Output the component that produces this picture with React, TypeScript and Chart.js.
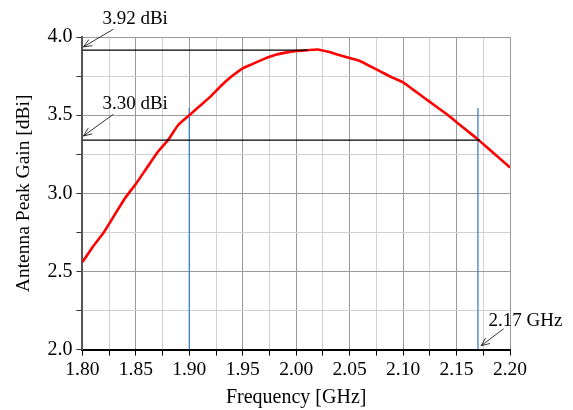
import React, { useEffect, useRef } from "react";
import { Chart, registerables } from "chart.js";

Chart.register(...registerables);

const freqGHz = [
  1.8, 1.81, 1.82, 1.83, 1.84, 1.85, 1.86, 1.87, 1.88, 1.89, 1.9, 1.91, 1.92, 1.93, 1.94, 1.95, 1.96, 1.97, 1.98, 1.99, 2.0,
  2.01, 2.02, 2.03, 2.04, 2.05, 2.06, 2.07, 2.08, 2.09, 2.1, 2.11, 2.12, 2.13, 2.14, 2.15, 2.16, 2.17, 2.18, 2.19, 2.2,
];
const peakGain = [
  2.56, 2.66, 2.75, 2.86, 2.97, 3.06, 3.16, 3.26, 3.34, 3.44, 3.5, 3.56, 3.62, 3.69, 3.75, 3.8, 3.83, 3.86, 3.885, 3.9, 3.91,
  3.915, 3.92, 3.905, 3.885, 3.865, 3.845, 3.81, 3.775, 3.74, 3.71, 3.66, 3.61, 3.56, 3.51, 3.455, 3.4, 3.345, 3.285, 3.225, 3.165,
];

// reference lines
const maxGainLevel = 3.916;
const maxGainEnd = 2.011;
const bandGainLevel = 3.34;
const bandGainEnd = 2.172;
const bandEdges = [1.9, 2.17];
const bandMarkerTop = 3.545;

const xTickLabels = ["1.80", "1.85", "1.90", "1.95", "2.00", "2.05", "2.10", "2.15", "2.20"];
const yTickLabels = ["2.0", "2.5", "3.0", "3.5", "4.0"];

const annotations = [
  { text: "3.92 dBi", tx: 1.8187, ty: 4.082, ax0: 1.829, ay0: 4.05, ax1: 1.801, ay1: 3.937 },
  { text: "3.30 dBi", tx: 1.8187, ty: 3.538, ax0: 1.829, ay0: 3.506, ax1: 1.801, ay1: 3.367 },
  { text: "2.17 GHz", tx: 2.18, ty: 2.152, ax0: 2.194, ay0: 2.133, ax1: 2.173, ay1: 2.025 },
];

const FONT = "'Liberation Serif', 'Times New Roman', serif";

const annotationPlugin = {
  id: "annot",
  afterDatasetsDraw(chart: any) {
    const { ctx, scales } = chart;
    const xs = scales.x;
    const ys = scales.y;
    ctx.save();
    ctx.fillStyle = "#000";
    ctx.strokeStyle = "#000";
    ctx.lineWidth = 0.8;
    ctx.font = `19px ${FONT}`;
    ctx.textBaseline = "alphabetic";
    for (const a of annotations) {
      const tx = xs.getPixelForValue(a.tx);
      const ty = ys.getPixelForValue(a.ty);
      ctx.fillText(a.text, tx, ty);
      const x0 = xs.getPixelForValue(a.ax0);
      const y0 = ys.getPixelForValue(a.ay0);
      const x1 = xs.getPixelForValue(a.ax1);
      const y1 = ys.getPixelForValue(a.ay1);
      ctx.beginPath();
      ctx.moveTo(x0, y0);
      ctx.lineTo(x1, y1);
      ctx.stroke();
      const ang = Math.atan2(y1 - y0, x1 - x0);
      const L = 9;
      const w = 0.4;
      ctx.beginPath();
      ctx.moveTo(x1 - L * Math.cos(ang - w), y1 - L * Math.sin(ang - w));
      ctx.lineTo(x1, y1);
      ctx.lineTo(x1 - L * Math.cos(ang + w), y1 - L * Math.sin(ang + w));
      ctx.stroke();
    }
    ctx.restore();
  },
};

const isMajor = (v: number, per: number) => Math.abs(v * per - Math.round(v * per)) < 1e-6;

export default function App() {
  const ref = useRef<HTMLCanvasElement>(null);
  useEffect(() => {
    document.body.style.margin = "0";
    const canvas = ref.current!;
    const curve = freqGHz.map((f, i) => ({ x: f, y: peakGain[i] }));
    const chart = new Chart(canvas, {
      type: "line",
      data: {
        datasets: [
          {
            data: [
              { x: freqGHz[0], y: maxGainLevel },
              { x: maxGainEnd, y: maxGainLevel },
            ],
            borderColor: "#000",
            borderWidth: 1.2,
            pointRadius: 0,
          },
          {
            data: [
              { x: freqGHz[0], y: bandGainLevel },
              { x: bandGainEnd, y: bandGainLevel },
            ],
            borderColor: "#000",
            borderWidth: 1.2,
            pointRadius: 0,
          },
          {
            data: curve,
            borderColor: "#ff0000",
            borderWidth: 2.6,
            pointRadius: 0,
            tension: 0.2,
          },
          ...bandEdges.map((f) => ({
            data: [
              { x: f, y: 2 },
              { x: f, y: bandMarkerTop },
            ],
            borderColor: "#3f7fd0",
            borderWidth: 1.3,
            pointRadius: 0,
          })),
        ],
      },
      options: {
        animation: false,
        responsive: false,
        parsing: false as any,
        layout: { padding: { top: 37, right: 63, left: 12, bottom: 0 } },
        plugins: { legend: { display: false }, tooltip: { enabled: false } },
        scales: {
          x: {
            type: "linear",
            min: 1.8,
            max: 2.2,
            ticks: {
              stepSize: 0.025,
              autoSkip: false,
              maxRotation: 0,
              color: "#000",
              font: { family: FONT, size: 19.5 },
              padding: 3,
              callback: (v: any) => (isMajor(Number(v), 20) ? xTickLabels[Math.round((Number(v) - 1.8) * 20)] : ""),
            },
            grid: {
              color: (c: any) => (isMajor(c.tick?.value ?? 0, 20) ? "#9a9a9a" : "#d0d0d0"),
              borderDash: [2, 2],
              tickBorderDash: [],
              tickColor: "#000",
              tickLength: 6,
            } as any,
            border: { display: true, color: "#000", width: 2 },
            title: {
              display: true,
              text: "Frequency [GHz]",
              color: "#000",
              font: { family: FONT, size: 20 },
              padding: { top: 1, bottom: 0 },
            },
          },
          y: {
            type: "linear",
            min: 2,
            max: 4,
            ticks: {
              stepSize: 0.25,
              autoSkip: false,
              color: "#000",
              font: { family: FONT, size: 20 },
              padding: 4,
              callback: (v: any) => (isMajor(Number(v), 2) ? yTickLabels[Math.round((Number(v) - 2) * 2)] : ""),
            },
            grid: {
              color: (c: any) => (isMajor(c.tick?.value ?? 0, 2) ? "#9a9a9a" : "#d0d0d0"),
              borderDash: [2, 2],
              tickBorderDash: [],
              tickColor: "#333",
              tickLength: 6,
            } as any,
            border: { display: true, color: "#555", width: 2 },
            title: {
              display: true,
              text: "Antenna Peak Gain [dBi]",
              color: "#000",
              font: { family: FONT, size: 19.5 },
              padding: { top: 0, bottom: 8 },
            },
          },
        },
      },
      plugins: [annotationPlugin],
    });
    return () => chart.destroy();
  }, []);
  return <canvas ref={ref} width={573} height={410} style={{ display: "block", width: 573, height: 410 }} />;
}
